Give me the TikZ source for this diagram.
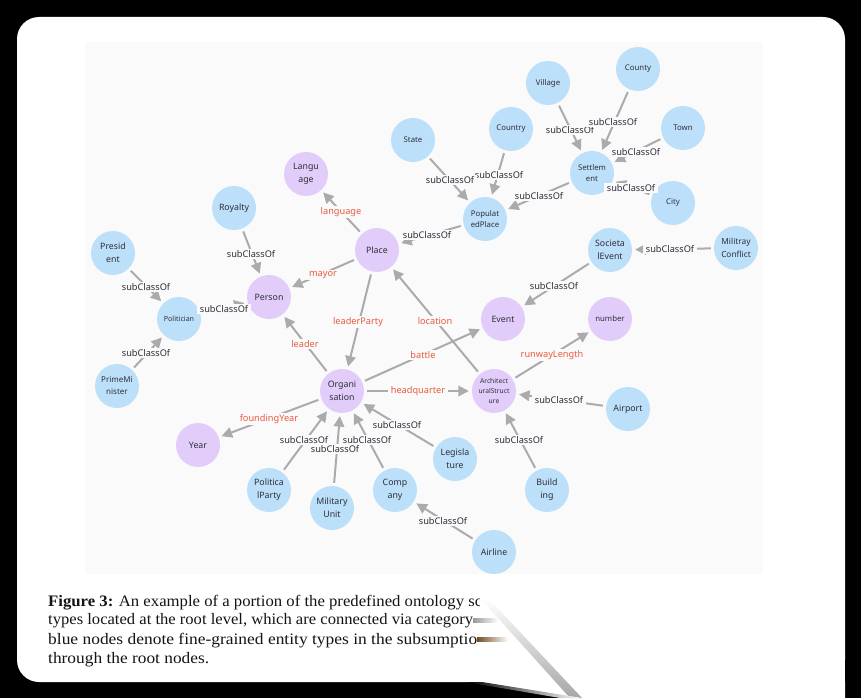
\documentclass[tikz,border=0pt]{standalone}
\usepackage{fontspec}
\usepackage{graphicx}
\setmainfont{Noto Sans}
\newfontfamily\capfont{Liberation Serif}
\usetikzlibrary{arrows.meta}
\definecolor{bluenode}{HTML}{BDE0FA}
\definecolor{purplenode}{HTML}{E2CDFA}
\definecolor{edgegray}{HTML}{ABABAB}
\definecolor{relred}{HTML}{E85B3E}
\definecolor{panelbg}{HTML}{FAFAFB}
\definecolor{txt}{HTML}{2E2E3A}
\begin{document}
\begin{tikzpicture}[x=1pt,y=-1pt,
 ent/.style={circle, minimum size=44pt, inner sep=0pt, align=center, text=txt, font=\fontsize{8.8}{13}\selectfont},
 fine/.style={ent, fill=bluenode},
 root/.style={ent, fill=purplenode},
 small/.style={font=\fontsize{7.8}{11.5}\selectfont},
 conn/.style={draw=edgegray, line width=2pt, -{Triangle[length=10.5pt,width=10.5pt]}, shorten <=3pt, shorten >=3pt},
 sub/.style={fill=panelbg, inner xsep=3pt, inner ysep=1.5pt, text=txt, font=\fontsize{9.2}{10}\selectfont},
 rel/.style={sub, text=relred},
 capline/.style={anchor=base west, inner sep=0pt, text=black!92}
]
\useasboundingbox (0,0) rectangle (861,698);
\fill[black] (0,0) rectangle (861,698);
\fill[white, rounded corners=22pt] (17,17) rectangle (845,682);
\fill[panelbg] (85,42) rectangle (763,574);

% nodes
\node[fine, small] (county) at (638,69) {County};
\node[fine, small] (village) at (548,83) {Village};
\node[fine, small] (country) at (511,129) {Country};
\node[fine, small] (town) at (683,128) {Town};
\node[fine, small] (state) at (413,140) {State};
\node[fine, small] (settlement) at (592,173) {Settlem\\ent};
\node[fine, small] (city) at (673,203) {City};
\node[fine, small] (popplace) at (485,219) {Populat\\edPlace};
\node[root] (language) at (306,174) {Langu\\age};
\node[fine] (royalty) at (234,208) {Royalty};
\node[root] (place) at (377,250) {Place};
\node[fine] (president) at (113,253) {Presid\\ent};
\node[fine] (societal) at (610,250) {Societa\\lEvent};
\node[fine, font=\fontsize{8.3}{12.5}\selectfont] (conflict) at (736,248) {Militray\\Conflict};
\node[root] (person) at (269,297) {Person};
\node[fine, font=\fontsize{7.1}{10}\selectfont] (politician) at (179,319) {Politician};
\node[root] (event) at (503,319) {Event};
\node[root, small] (number) at (610,319) {number};
\node[fine, font=\fontsize{8}{12}\selectfont] (primeminister) at (117,386) {PrimeMi\\nister};
\node[root] (organisation) at (342,391) {Organi\\sation};
\node[root, font=\fontsize{6.7}{10}\selectfont] (arch) at (494,391) {Architect\\uralStruct\\ure};
\node[fine] (airport) at (628,409) {Airport};
\node[root] (year) at (198,445) {Year};
\node[fine] (legislature) at (455,459) {Legisla\\ture};
\node[fine] (polparty) at (269,490) {Politica\\lParty};
\node[fine] (company) at (395,490) {Comp\\any};
\node[fine] (building) at (547,490) {Build\\ing};
\node[fine] (milunit) at (332,508) {Military\\Unit};
\node[fine] (airline) at (494,552) {Airline};

% connectors
\draw[conn] (village) -- (settlement);
\draw[conn] (county) -- (settlement);
\draw[conn] (town) -- (settlement);
\draw[conn] (city) -- (settlement);
\draw[conn] (settlement) -- (popplace);
\draw[conn] (country) -- (popplace);
\draw[conn] (state) -- (popplace);
\draw[conn] (popplace) -- (place);
\draw[conn] (royalty) -- (person);
\draw[conn] (president) -- (politician);
\draw[conn] (politician) -- (person);
\draw[conn] (primeminister) -- (politician);
\draw[conn] (conflict) -- (societal);
\draw[conn] (societal) -- (event);
\draw[conn] (airport) -- (arch);
\draw[conn] (building) -- (arch);
\draw[conn] (legislature) -- (organisation);
\draw[conn] (polparty) -- (organisation);
\draw[conn] (milunit) -- (organisation);
\draw[conn] (company) -- (organisation);
\draw[conn] (airline) -- (company);
\draw[conn] (place) -- (language);
\draw[conn] (place) -- (person);
\draw[conn] (place) -- (organisation);
\draw[conn] (organisation) -- (person);
\draw[conn] (organisation) -- (event);
\draw[conn] (organisation) -- (arch);
\draw[conn] (organisation) -- (year);
\draw[conn] (arch) -- (place);
\draw[conn] (arch) -- (number);

% labels
\node[sub] (l1) at (570,130) {subClassOf};
\node[sub] (l2) at (613,122) {subClassOf};
\node[sub] (l3) at (636,152) {subClassOf};
\node[sub] (l4) at (631,188) {subClassOf};
\node[sub] (l5) at (539,196) {subClassOf};
\node[sub] (l6) at (499,175) {subClassOf};
\node[sub] (l7) at (450,180) {subClassOf};
\node[sub] (l8) at (427,235) {subClassOf};
\node[sub] (l9) at (251,254) {subClassOf};
\node[sub] (l10) at (146,287) {subClassOf};
\node[sub] (l11) at (224,309) {subClassOf};
\node[sub] (l12) at (146,353) {subClassOf};
\node[sub] (l13) at (670,249) {subClassOf};
\node[sub] (l14) at (554,286) {subClassOf};
\node[sub] (l15) at (559,400) {subClassOf};
\node[sub] (l16) at (519,440) {subClassOf};
\node[sub] (l17) at (397,425) {subClassOf};
\node[sub] (l18) at (304,440) {subClassOf};
\node[sub] (l20) at (367,440) {subClassOf};
\node[sub] (l19) at (335,449) {subClassOf};
\node[sub] (l21) at (443,521) {subClassOf};
\node[rel] (r1) at (341,212) {language};
\node[rel] (r2) at (323,275) {mayor};
\node[rel] (r3) at (358,322) {leaderParty};
\node[rel] (r4) at (305,344) {leader};
\node[rel] (r5) at (423,355) {battle};
\node[rel] (r6) at (418,391) {headquarter};
\node[rel] (r7) at (269,419) {foundingYear};
\node[rel] (r8) at (435,321) {location};
\node[rel] (r9) at (552,355) {runwayLength};

% caption
\node[capline] (c1) at (48,606) {\resizebox{434pt}{\height}{\capfont\fontsize{16}{19}\selectfont\textbf{Figure 3:} An example of a portion of the predefined ontology sc}};
\node[capline] (c2) at (48,624.5) {\resizebox{425pt}{\height}{\capfont\fontsize{16}{19}\selectfont types located at the root level, which are connected via category}};
\node[capline] (c3) at (48,644) {\resizebox{429pt}{\height}{\capfont\fontsize{16}{19}\selectfont blue nodes denote fine-grained entity types in the subsumptio}};
\node[capline] (c4) at (48,663.5) {\resizebox{161pt}{\height}{\capfont\fontsize{16}{19}\selectfont through the root nodes.}};

% white overlay over the caption's right part
\fill[white] (480,588) rectangle (845,682);
\fill[white] (473,682) -- (577,698) -- (845,698) -- (845,682) -- cycle;
\shade[left color=black!40, right color=white] (473,618.5) rectangle (498,622);
\shade[left color=brown!60!black, right color=white] (477,637.5) rectangle (508,641.5);
\shade[top color=white, bottom color=black!35] (480,598) -- (488,598) -- (582,698) -- (570,698) -- cycle;
\shade[left color=black, right color=white] (466,682) -- (482,682) -- (582,698) -- (560,698) -- cycle;
\end{tikzpicture}
\end{document}
